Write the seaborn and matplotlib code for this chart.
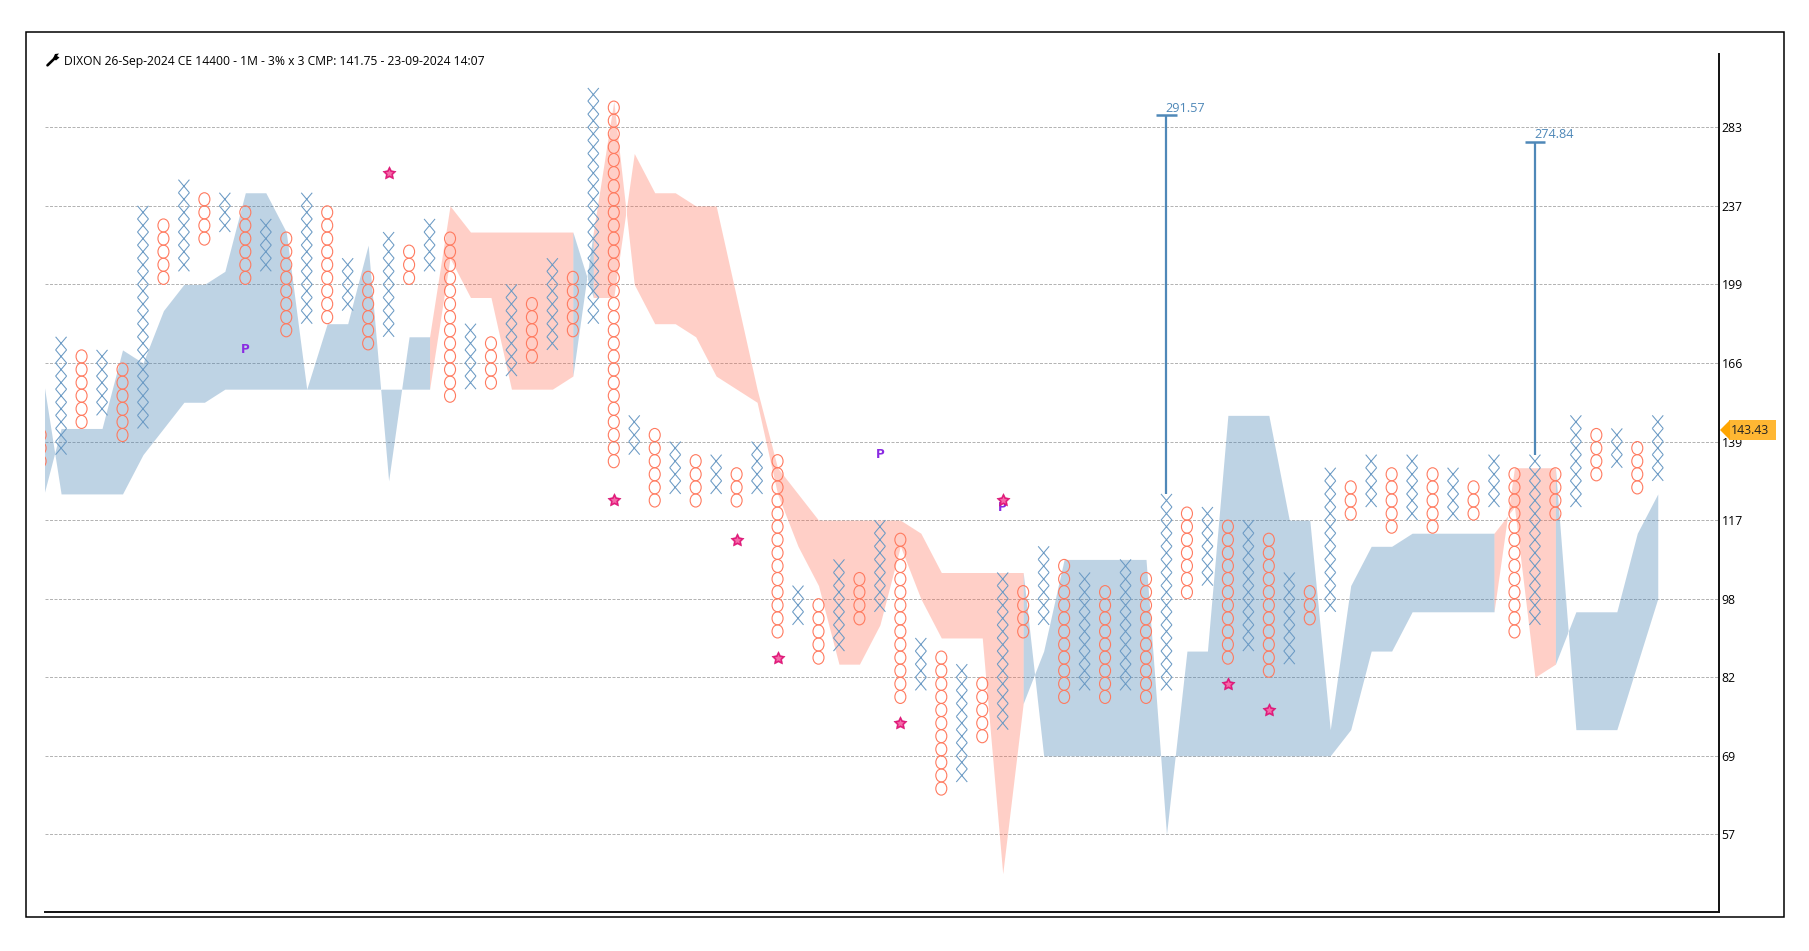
import numpy as np
import pandas as pd
import matplotlib
matplotlib.use("Agg")
import matplotlib.pyplot as plt
from matplotlib.path import Path
from matplotlib.patches import Polygon, Rectangle
from matplotlib.lines import Line2D
from matplotlib.transforms import Affine2D
import seaborn as sns

# ---- data -----------------------------------------------------------------
title_text = "DIXON 26-Sep-2024 CE 14400 - 1M - 3% x 3 CMP: 141.75 - 23-09-2024 14:07"
tick_rows = [0, 6, 12, 18, 24, 30, 36, 42, 48, 54]
tick_labels = ["57", "69", "82", "98", "117", "139", "166", "199", "237", "283"]

# box-row ranges of each point & figure column (even index = O, odd index = X)
col_low = [28, 29, 31, 32, 30, 31, 42, 43, 45, 46, 42, 43, 38, 39, 39, 40, 37, 38, 42, 43,
           33, 34, 34, 35, 36, 37, 38, 39, 28, 29, 25, 26, 25, 26, 25, 26, 15, 16, 13, 14,
           16, 17, 10, 11, 3, 4, 7, 8, 15, 16, 10, 11, 10, 11, 10, 11, 18, 19, 13, 14,
           12, 13, 16, 17, 24, 25, 23, 24, 23, 24, 24, 25, 15, 16, 24, 25, 27, 28, 26, 27]
col_high = [31, 38, 37, 37, 36, 48, 47, 50, 49, 49, 48, 47, 46, 49, 48, 44, 43, 46, 45, 47,
            46, 39, 38, 42, 41, 44, 43, 57, 56, 32, 31, 30, 29, 29, 28, 30, 29, 19, 18, 21,
            20, 24, 23, 15, 14, 13, 12, 20, 19, 22, 21, 20, 19, 21, 20, 26, 25, 25, 24, 24,
            23, 20, 19, 28, 27, 29, 28, 29, 28, 28, 27, 29, 28, 29, 28, 32, 31, 31, 30, 32]

# the two cloud edges per column
span_a = [25, 31, 31, 31, 37, 36, 40, 42, 42, 43, 49, 49, 46, 34, 39, 39, 45, 27, 38, 38,
          48, 46, 46, 46, 46, 46, 46, 41, 41, 52, 49, 49, 48, 48, 41, 34, 28, 26, 24, 24,
          24, 24, 24, 23, 20, 20, 20, 20, 20, 6, 6, 6, 6, 6, 6, 6, 6, 6, 6, 6,
          6, 6, 6, 6, 8, 14, 14, 17, 17, 17, 17, 17, 28, 28, 28, 8, 8, 8, 13, 18]
span_b = [36, 26, 26, 26, 26, 29, 31, 33, 33, 34, 34, 34, 34, 34, 34, 34, 34, 34, 34, 34,
          44, 41, 41, 34, 34, 34, 35, 46, 56, 42, 39, 39, 38, 35, 34, 33, 26, 22, 19, 13,
          13, 16, 22, 18, 15, 15, 15, -3, 10, 14, 21, 21, 21, 21, 21, 0, 14, 14, 32, 32,
          32, 24, 24, 8, 19, 22, 22, 23, 23, 23, 23, 23, 25, 12, 13, 17, 17, 17, 23, 26]
# consecutive cloud runs: (first column, last column, colour name)
cloud_runs = [(0, 19, "blue"), (19, 26, "pink"), (26, 27, "blue"), (27, 48, "pink"),
              (48, 71, "blue"), (71, 74, "pink"), (74, 79, "blue")]

star_cols = [17, 28, 34, 36, 42, 47, 58, 60]
star_rows = [50.5, 25.5, 22.5, 13.5, 8.5, 25.5, 11.5, 9.5]
p_cols = [10, 41, 47]
p_rows = [37, 29, 25]

target_cols = [55, 73]
target_tops = [54.9, 52.9]
target_bases = [26, 29]
target_labels = ["291.57", "274.84"]
cmp_label = "143.43"

# ---- style ----------------------------------------------------------------
sns.set_theme(style="white")
plt.rcParams["font.family"] = ["Open Sans", "DejaVu Sans"]
W, H = 1809, 951
X_COL = "#6b9ac4"
O_COL = "#ff7a5f"
BLUE = "#4682b4"
PINK = "#ff6347"
TARGET = "#4f88b8"

fig = plt.figure(figsize=(W / 100, H / 100), dpi=100, facecolor="white")
L, R, T, B = 44.5, 1718.7, 54.0, 912.0
ax = fig.add_axes([L / W, 1 - B / H, (R - L) / W, (B - T) / H])
x0, dx = 61.1, 20.47
y0, dy = 834.4, 13.095
ax.set_xlim((L - x0) / dx + 1, (R - x0) / dx + 1)
ax.set_ylim((y0 - B) / dy, (y0 - T) / dy)

# ---- cloud ----------------------------------------------------------------
a = np.array(span_a, float)
b = np.array(span_b, float)
cols = np.arange(len(a))
for s, e, name in cloud_runs:
    pink = name == "pink"
    ax.fill_between(cols[s:e + 1], a[s:e + 1], b[s:e + 1],
                    color=PINK if pink else BLUE, alpha=0.30 if pink else 0.35,
                    linewidth=0, zorder=2)

# ---- point & figure columns -----------------------------------------------
rows = []
for c, (lo, hi) in enumerate(zip(col_low, col_high)):
    for r in range(lo, hi):
        rows.append({"col": c, "row": r + 0.5, "kind": "O" if c % 2 == 0 else "X"})
boxes = pd.DataFrame(rows)

box_pts = dy * 72 / 100
x_path = Path([(-0.42, -0.5), (0.42, 0.5), (-0.42, 0.5), (0.42, -0.5)],
              [Path.MOVETO, Path.LINETO, Path.MOVETO, Path.LINETO])
o_path = Path.unit_circle().transformed(Affine2D().scale(0.42, 0.5))

sns.scatterplot(data=boxes[boxes.kind == "X"], x="col", y="row", ax=ax, marker=x_path,
                s=box_pts ** 2, facecolors="none", edgecolor=X_COL, linewidth=0.75,
                zorder=3, legend=False)
sns.scatterplot(data=boxes[boxes.kind == "O"], x="col", y="row", ax=ax, marker=o_path,
                s=box_pts ** 2, facecolors="none", edgecolor=O_COL, linewidth=0.8,
                zorder=4, legend=False)

# ---- stars and pattern marks ----------------------------------------------
star_path = Path.unit_regular_star(5, innerCircle=0.5)
sns.scatterplot(x=star_cols, y=star_rows, ax=ax, marker=star_path, s=100, color="#e5197c",
                edgecolor="#cf0f6c", linewidth=0.3, zorder=6, legend=False)
sns.scatterplot(x=star_cols, y=star_rows, ax=ax, marker=star_path, s=30, color="#f46aa8",
                linewidth=0, zorder=7, legend=False)
for c, r in zip(p_cols, p_rows):
    ax.text(c, r, "P", color="#8a2be2", fontsize=8.6, fontweight="bold", family="DejaVu Sans",
            ha="center", va="center", zorder=5)

# ---- targets --------------------------------------------------------------
for c, top, base, lab in zip(target_cols, target_tops, target_bases, target_labels):
    ax.plot([c, c], [base, top], color=TARGET, lw=1.6, zorder=5, solid_capstyle="butt")
    ax.plot([c - 0.49, c + 0.49], [top, top], color=TARGET, lw=1.8, zorder=5, solid_capstyle="butt")
    ax.text(c - 0.05, top + 0.55, lab, color=TARGET, fontsize=9.2, ha="left", va="center", zorder=6)

# ---- axes -----------------------------------------------------------------
ax.set_xticks([])
ax.set_yticks(tick_rows)
ax.set_yticklabels(tick_labels, fontsize=8.8, color="black")
ax.yaxis.tick_right()
ax.tick_params(axis="y", length=0, pad=2)
ax.set_xlabel("")
ax.set_ylabel("")
ax.grid(axis="y", color="#b4b4b4", lw=0.72, ls=(0, (3, 1.5)), zorder=1)
ax.set_axisbelow(True)
for side in ("left", "top"):
    ax.spines[side].set_visible(False)
for side in ("right", "bottom"):
    ax.spines[side].set_visible(True)
    ax.spines[side].set_color("#111111")
    ax.spines[side].set_linewidth(1.4)


def fx(px):
    return px / W


def fy(py):
    return 1 - py / H


# outer frame
fig.add_artist(Rectangle((fx(25.5), fy(917.3)), fx(1783.5 - 25.5), (917.3 - 31.5) / H,
                         transform=fig.transFigure, fill=False, ec="black", lw=1.1))

# title and wrench
fig.text(fx(64), fy(61.2), title_text, fontsize=8.77, color="black", ha="left", va="center")
fig.add_artist(Line2D([fx(47.5), fx(55)], [fy(65.3), fy(58)], transform=fig.transFigure,
                      color="black", lw=1.9, solid_capstyle="round"))
fig.add_artist(Polygon([(fx(53), fy(58.5)), (fx(55), fy(54)), (fx(59), fy(53.5)), (fx(57), fy(56)),
                        (fx(59.5), fy(57.5)), (fx(56), fy(60.5))],
                       transform=fig.transFigure, fc="black", ec="none"))

# current price flag
fig.add_artist(Rectangle((fx(1729), fy(440)), fx(1776 - 1729), 20 / H, transform=fig.transFigure,
                         fc="#ffb733", ec="none"))
fig.add_artist(Polygon([(fx(1720), fy(430)), (fx(1730), fy(420)), (fx(1730), fy(440))],
                       transform=fig.transFigure, fc="#ffa500", ec="none"))
fig.text(fx(1750), fy(430), cmp_label, fontsize=8.8, color="#222222", ha="center", va="center")

fig.savefig("out.png", dpi=100, facecolor="white")
